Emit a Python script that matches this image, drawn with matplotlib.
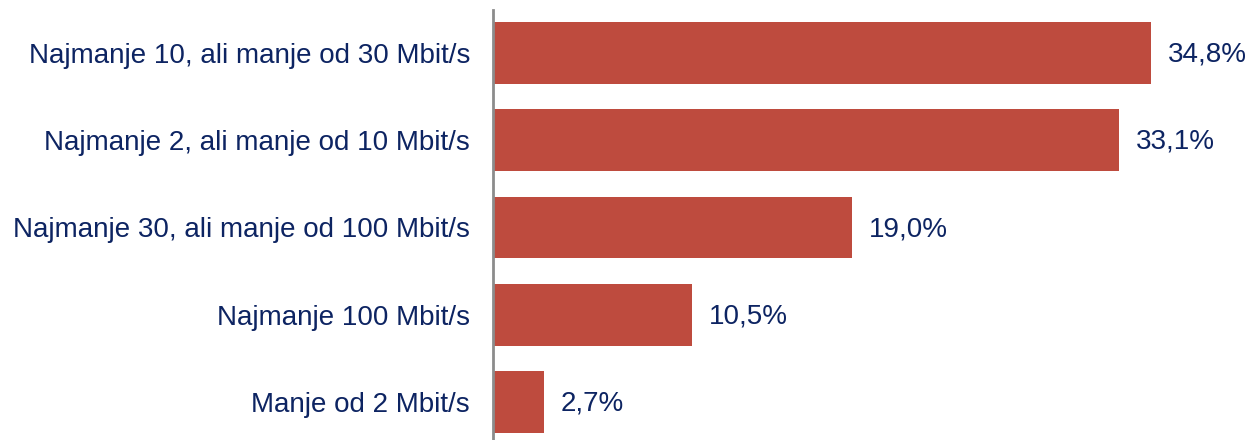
import matplotlib.pyplot as plt

# categorias e valores (%)
kategorije = ['Najmanje 10, ali manje od 30 Mbit/s',
              'Najmanje 2, ali manje od 10 Mbit/s',
              'Najmanje 30, ali manje od 100 Mbit/s',
              'Najmanje 100 Mbit/s',
              'Manje od 2 Mbit/s']
vrijednosti = [34.8, 33.1, 19.0, 10.5, 2.7]

plt.rcParams['font.family'] = ['Liberation Sans', 'DejaVu Sans']
tekst = '#0D2462'
crvena = '#BE4B3E'

fig = plt.figure(figsize=(12.45, 4.4), dpi=100)
ax = fig.add_axes([493 / 1245, 0, 752 / 1245, 430 / 440])

pos = list(range(len(kategorije)))
ax.barh(pos, vrijednosti, height=0.71, color=crvena)

for p, v in zip(pos, vrijednosti):
    ax.text(v + 0.9, p + 0.02, f'{v:.1f}%'.replace('.', ','), va='center', ha='left',
            fontsize=20, color=tekst)

ax.set_yticks(pos)
ax.set_yticklabels(kategorije, fontsize=20, color=tekst)
ax.tick_params(axis='y', length=0, pad=16.5)
ax.set_xticks([])
ax.set_xlim(0, 39.77)
ax.set_ylim(4.436, -0.493)

for s in ['top', 'right', 'bottom']:
    ax.spines[s].set_visible(False)
ax.spines['left'].set_color('#8C8C8C')
ax.spines['left'].set_linewidth(2)

fig.savefig('out.png', dpi=100)
